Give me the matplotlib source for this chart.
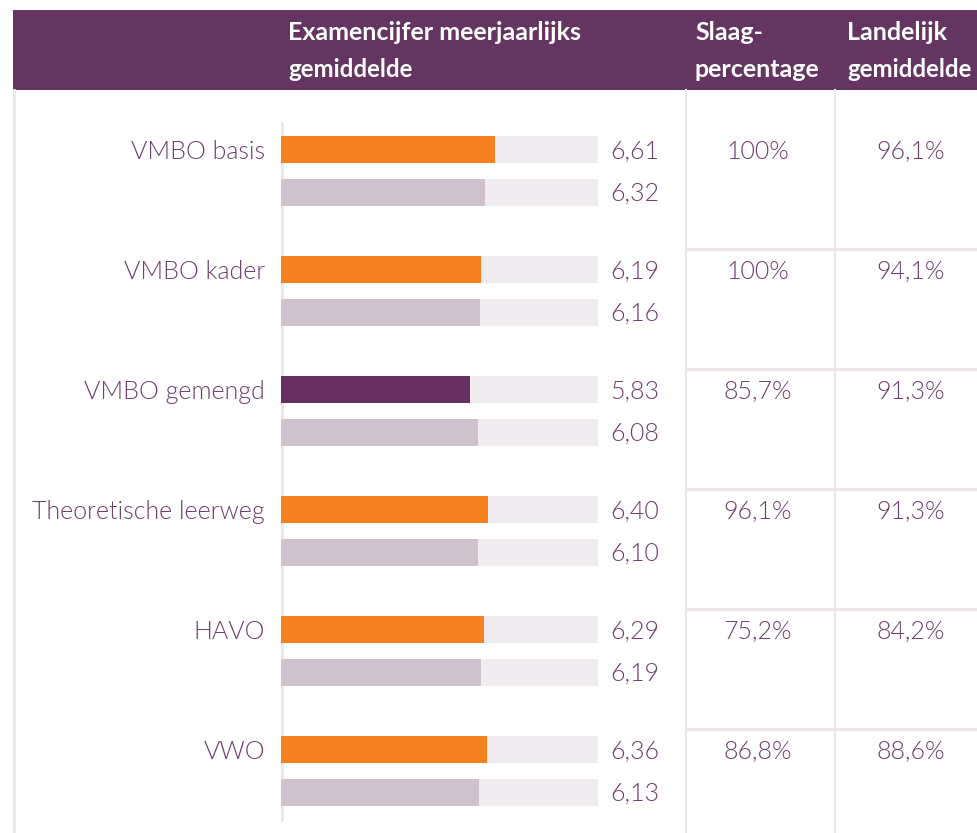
import matplotlib
matplotlib.use("Agg")
import matplotlib.pyplot as plt
import matplotlib.transforms as mtransforms
from matplotlib.patches import Rectangle
from matplotlib.lines import Line2D

# ---- data ----
categories = ["VMBO basis", "VMBO kader", "VMBO gemengd",
              "Theoretische leerweg", "HAVO", "VWO"]
school_avg = [6.61, 6.19, 5.83, 6.40, 6.29, 6.36]
national_avg = [6.32, 6.16, 6.08, 6.10, 6.19, 6.13]
pass_rate = ["100%", "100%", "85,7%", "96,1%", "75,2%", "86,8%"]
national_pass = ["96,1%", "94,1%", "91,3%", "91,3%", "84,2%", "88,6%"]
header_bars = ["Examencijfer meerjaarlijks", "gemiddelde"]
header_pass = ["Slaag-", "percentage"]
header_nat = ["Landelijk", "gemiddelde"]

# ---- style ----
W, H = 977, 833
HEADER = "#633560"
ORANGE = "#F58220"
PURPLE = "#662F62"
GREY = "#CFC2CC"
TRACK = "#F0EBEF"
LINE = "#ECE6EB"
TXT = "#6B3F69"
FONT = ["Lato", "DejaVu Sans"]

fig = plt.figure(figsize=(W / 100, H / 100), dpi=100)
fig.patch.set_facecolor("white")

def fx(px):
    return px / W

def fy(py):
    return 1 - py / H

# header band
fig.patches.append(Rectangle((fx(13), fy(90)), fx(977) - fx(13), fy(10) - fy(90),
                             transform=fig.transFigure, facecolor=HEADER,
                             edgecolor="none", zorder=-2))

# bar axes
ax_top, ax_bot = 90, 833
ax = fig.add_axes([fx(281), fy(ax_bot), fx(598) - fx(281), fy(ax_top) - fy(ax_bot)])
ax.set_facecolor("none")
xmax = 9.8
ax.set_xlim(0, xmax)
top_off = (149.5 - ax_top) / 120.0
ax.set_ylim((ax_bot - ax_top) / 120.0 - top_off, -top_off)
for s in ax.spines.values():
    s.set_visible(False)
ax.set_xticks([])
ax.set_yticks([])

n = len(categories)
ys1 = list(range(n))
ys2 = [i + 0.355 for i in range(n)]
bh = 0.225
ax.barh(ys1, [xmax] * n, height=bh, color=TRACK, zorder=1)
ax.barh(ys2, [xmax] * n, height=bh, color=TRACK, zorder=1)
cols1 = [PURPLE if s < nv else ORANGE for s, nv in zip(school_avg, national_avg)]
ax.barh(ys1, school_avg, height=bh, color=cols1, zorder=2)
ax.barh(ys2, national_avg, height=bh, color=GREY, zorder=2)

# axis line
fig.lines.append(Line2D([fx(282), fx(282)], [fy(123), fy(820)],
                        transform=fig.transFigure, color=LINE, lw=2, zorder=-1))
# left border
fig.lines.append(Line2D([fx(14), fx(14)], [fy(90), fy(833)],
                        transform=fig.transFigure, color=LINE, lw=2, zorder=-1))
# table column lines
for xp in (686, 835):
    fig.lines.append(Line2D([fx(xp), fx(xp)], [fy(90), fy(833)],
                            transform=fig.transFigure, color=LINE, lw=1.5, zorder=-1))

blend = mtransforms.blended_transform_factory(fig.transFigure, ax.transData)
for i in range(1, n):
    yb = i - 0.175
    fig.lines.append(Line2D([fx(686), fx(977)], [yb, yb], color=LINE, lw=2,
                            transform=blend, zorder=-1))

fs = 18
dy = 0.018
tkw = dict(transform=blend, va="center", color=TXT, fontsize=fs, family=FONT,
           fontweight=300)
for i in range(n):
    fig.text(fx(265), ys1[i] + dy, categories[i], ha="right", **tkw)
    fig.text(fx(610), ys1[i] + dy, f"{school_avg[i]:.2f}".replace(".", ","), ha="left", **tkw)
    fig.text(fx(610), ys2[i] + dy, f"{national_avg[i]:.2f}".replace(".", ","), ha="left", **tkw)
    fig.text(fx(758), ys1[i] + dy, pass_rate[i], ha="center", **tkw)
    fig.text(fx(911), ys1[i] + dy, national_pass[i], ha="center", **tkw)

for xp, lines in ((288, header_bars), (695, header_pass), (847, header_nat)):
    for yb, txt in zip((40, 77), lines):
        hfs = 17.3 if txt == "gemiddelde" else 18
        fig.text(fx(xp), fy(yb), txt, ha="left", va="baseline", color="white",
                 fontsize=hfs, family=FONT, fontweight="bold")

fig.savefig("out.png", dpi=100)
